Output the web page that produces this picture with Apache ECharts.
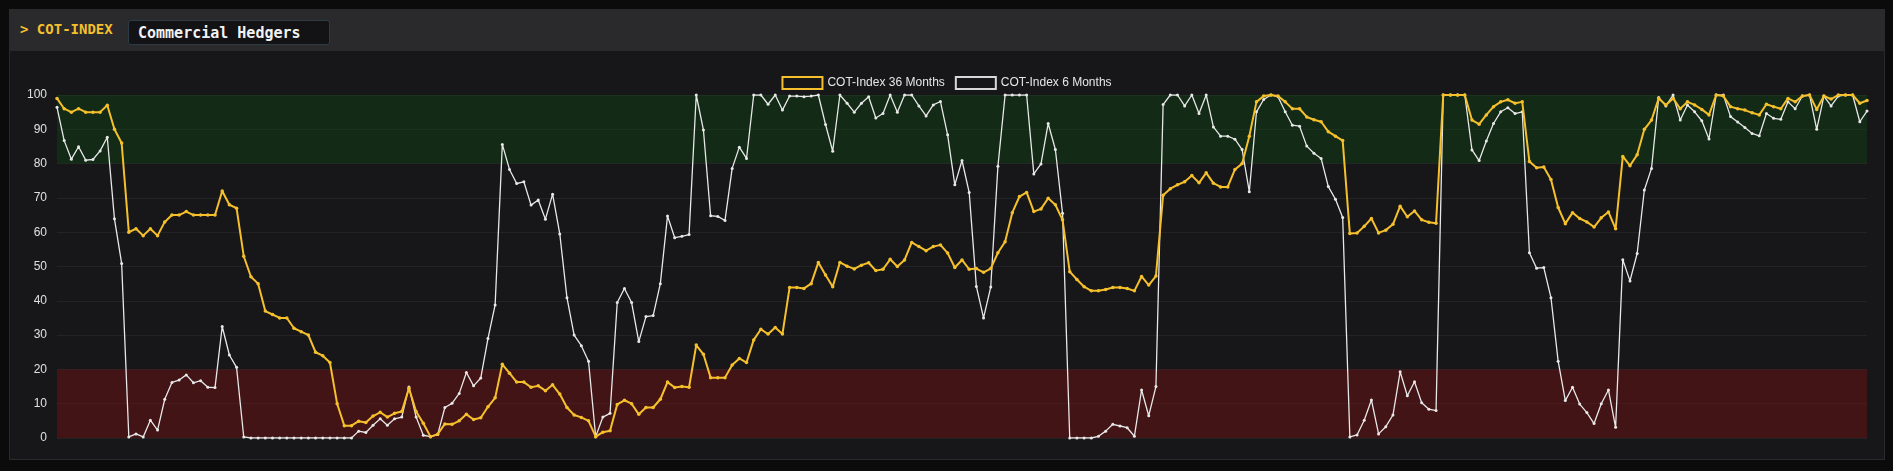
<!DOCTYPE html>
<html lang="en">
<head>
<meta charset="UTF-8">
<script src="https://cdn.jsdelivr.net/npm/echarts@6/dist/echarts.min.js"></script>
<title>COT-Index</title>
<style>
  html, body { margin: 0; padding: 0; background: #0b0b0b; }
  #panel { position: absolute; left: 9px; top: 9px; width: 1876px; height: 451px; background: #17171a; border: 1px solid #2a2a2d; box-sizing: border-box; }
  #head { position: absolute; left: 0; top: 0; right: 0; height: 41px; background: #2a2a2c; font-family: "DejaVu Sans Mono", monospace; font-weight: bold; }
  #head .t { position: absolute; left: 10px; top: 11px; color: #f5c02c; font-size: 14px; }
  #head .b { position: absolute; left: 118px; top: 10px; width: 202px; height: 25px; background: #131315; border: 1px solid #2d3b44; border-radius: 3px; color: #f2f2f2; font-size: 15px; line-height: 25px; padding-left: 9px; box-sizing: border-box; }
  #main { position: absolute; left: 0; top: 0; width: 1893px; height: 471px; }
</style>
</head>
<body>
<div id="panel"><div id="head"><span class="t">&gt; COT-INDEX</span><span class="b">Commercial Hedgers</span></div></div>
<div id="main"></div>
<script type="text/javascript">
    // COT-Index 36 Months
    var cot36 = [
        99,96,95,96,95,95,95,97,90,86,
        60,61,59,61,59,63,65,65,66,65,
        65,65,65,72,68,67,53,47,45,37,
        36,35,35,32,31,30,25,24,22,10,
        3.6,3.6,4.9,4.5,6.4,7.5,6.1,7.2,7.7,14.5,
        7.7,4.3,0.4,1.1,4.1,4,5,6.9,5.4,5.9,
        9.1,11.7,21.5,18.9,16.3,16.3,14.8,15.2,13.8,15.5,
        12.8,8.9,6.7,6,5,0.4,1.7,2.1,9.8,11,
        10,6.9,8.9,8.9,11.3,16.3,14.7,15,14.8,27.1,
        24.4,17.6,17.6,17.6,21.3,23.2,22,28.6,31.7,30.3,
        32.2,30.3,43.9,43.9,43.6,45,51.2,47.5,44.1,51.2,
        50.1,49.3,50.4,51.1,48.8,49.2,52.1,50,51.9,57,
        55.8,54.6,55.8,56.3,53.9,49.7,51.9,49.2,49.4,48.3,
        49.4,54,57.2,65.7,70.4,71.6,66,66.8,69.9,68,
        63.6,48.5,46.2,44.1,42.9,42.9,43.3,43.9,43.9,43.6,
        42.9,47.1,44.6,47.2,70.8,72.7,73.8,74.7,76.5,74.4,
        77.3,74.3,73.2,73.2,78.3,80,88,98,99.7,100,
        99.7,98,96,96,93.6,92.8,92.2,89.3,88,86.7,
        59.6,59.8,61.7,64,59.8,60.6,62.3,67.6,64.5,66.2,
        63.6,62.9,62.6,100,100,100,100,92.7,91.5,94.2,
        96.6,98,98.6,97.6,98,80.6,78.8,79,75.4,67.2,
        62.5,65.7,64,63,61.5,64.2,65.9,61,82.1,79.4,
        82.6,90,92.7,99,97.1,99,96,98,97.1,95.8,
        94.2,100,99.7,96.6,96,95.6,94.8,94.2,97.3,96.6,
        96,99,98,99.7,100,95.8,99.7,98.8,100,100,
        100,97.6,98.4
    ];
    // COT-Index 6 Months
    var cot6 = [
        96.4,86.7,81.3,84.9,81,81.2,83.7,87.7,63.9,50.9,
        0.3,1.2,0.3,5.2,2.3,11.3,16.2,16.9,18.4,16.1,
        16.7,14.8,14.7,32.5,24.2,20.6,0.3,0,0,0,
        0,0,0,0,0,0,0,0,0,0,
        0,0,2,1.6,3.7,5.6,3.7,5.6,6.1,14.9,
        6.1,0.8,0.4,1,8.9,10.1,13,19.1,15.2,17.5,
        29,38.8,85.6,78.3,74.2,74.7,67.9,69.4,63.8,71.1,
        59.5,40.9,30,26.9,22.4,0.4,6.1,7.2,39.5,43.6,
        39.5,28.1,35.4,35.7,45,64.7,58.4,58.8,59.3,100,
        89.8,64.8,64.6,63.4,78.6,84.8,81.5,100,100,97.3,
        100,95.6,99.7,99.7,99.5,99.7,100,91.4,83.6,100,
        97.6,95,97.6,99.5,93.3,94.6,100,95,100,100,
        96.8,93.9,97.1,98.1,88.4,73.8,80.9,71.6,44.2,35,
        44,79.2,100,100,100,100,77,79.9,91.7,84.1,
        65.5,0,0,0,0,0.5,2,4,3.5,3,
        0.5,14,6.5,15,97.2,100,100,96.8,100,94.6,
        100,90.7,88,88,87.1,84.1,71.8,95.1,98.7,100,
        99.5,95.1,91.2,90.9,85.1,83,81.5,73.3,69.6,64.3,
        0.3,0.9,5.2,11.1,1.2,3.3,6.7,19.3,12.3,16.4,
        10.3,8.4,8,100,100,100,100,84,80.9,86.6,
        91.7,95.1,96.3,94.6,95.1,54,49.5,49.7,40.9,22.4,
        10.9,14.8,9.9,7.4,4.2,10,14,3.1,52,45.8,
        53.8,72.3,78.6,99.3,96.8,100,92.7,97.1,95.1,92.5,
        87.2,100,100,93.7,92.1,90.5,88.8,88.1,94.6,93.2,
        92.9,98,96,99.7,100,90,99.7,96.8,99.7,100,
        100,92.2,95.3
    ];
    var weeks = cot36.map(function (v, i) { return 'W' + (i + 1); });

    var myChart = echarts.init(document.getElementById("main"));

    myChart.setOption({
        backgroundColor: 'transparent',
        animation: false,
        legend: {
            top: 71,
            left: 'center',
            itemWidth: 40,
            itemHeight: 12,
            itemGap: 10,
            textStyle: { color: '#e6e6e6', fontSize: 12, fontFamily: 'Liberation Sans' },
            data: [
                { name: 'COT-Index 36 Months', icon: 'rect', itemStyle: { color: 'transparent', borderColor: '#f5c02c', borderWidth: 2 } },
                { name: 'COT-Index 6 Months', icon: 'rect', itemStyle: { color: 'transparent', borderColor: '#d8d8d8', borderWidth: 2 } }
            ]
        },
        grid: { left: 57, right: 26, top: 95, bottom: 33 },
        xAxis: {
            type: 'category',
            data: weeks,
            boundaryGap: false,
            axisLine: { show: false },
            axisTick: { show: false },
            axisLabel: { show: false }
        },
        yAxis: {
            type: 'value',
            min: 0,
            max: 100,
            interval: 10,
            axisLabel: { color: '#e0e0e0', fontSize: 12, fontFamily: 'Liberation Sans', margin: 10 },
            splitLine: { lineStyle: { color: '#232326' } }
        },
        series: [
            {
                name: 'COT-Index 36 Months',
                type: 'line',
                data: cot36,
                symbol: 'circle',
                symbolSize: 3.5,
                lineStyle: { color: '#f5c02c', width: 2 },
                itemStyle: { color: '#f5c02c' },
                z: 3
            },
            {
                name: 'COT-Index 6 Months',
                type: 'line',
                data: cot6,
                symbol: 'circle',
                symbolSize: 3,
                lineStyle: { color: '#e8e8e8', width: 1.3 },
                itemStyle: { color: '#e8e8e8' },
                z: 2
            },
            {
                // shaded zones drawn over the lines, like the original
                name: 'zones',
                type: 'line',
                data: [],
                z: 10,
                silent: true,
                markArea: {
                    silent: true,
                    data: [
                        [{ yAxis: 80, itemStyle: { color: 'rgba(10,86,13,0.3)' } }, { yAxis: 100 }],
                        [{ yAxis: 0, itemStyle: { color: 'rgba(149,14,17,0.35)' } }, { yAxis: 20 }]
                    ]
                }
            }
        ]
    });
</script>
</body>
</html>
